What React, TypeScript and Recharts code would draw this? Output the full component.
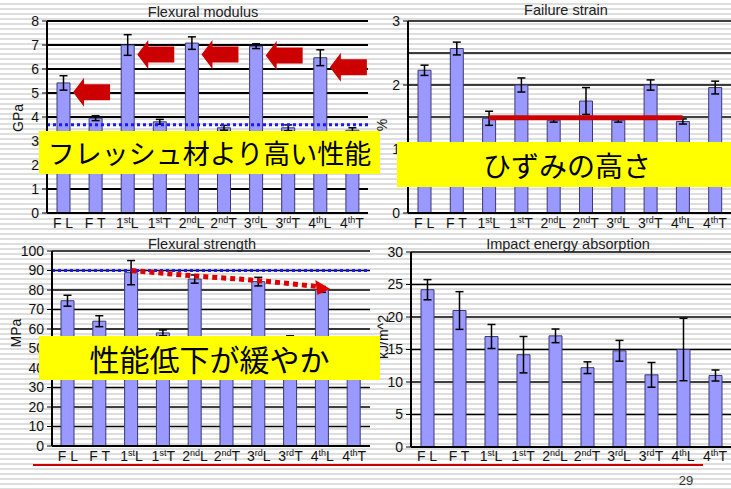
import React from "react";
import {
  ComposedChart,
  Bar,
  Line,
  XAxis,
  YAxis,
  CartesianGrid,
  ErrorBar,
  ReferenceLine,
  ReferenceDot,
} from "recharts";

// specimen groups: fresh (F) and recycled 1st..4th, L / T direction
const categories = ["FL", "FT", "1stL", "1stT", "2ndL", "2ndT", "3rdL", "3rdT", "4thL", "4thT"];

// Flexural modulus [GPa]
const modulus = [5.42, 3.95, 7.0, 3.8, 7.08, 3.55, 6.95, 3.55, 6.47, 3.45];
const modulusErr = [0.3, 0.1, 0.43, 0.1, 0.26, 0.1, 0.1, 0.12, 0.33, 0.1];
const modulusTicks = [0, 1, 2, 3, 4, 5, 6, 7, 8];
const freshModulus = 3.68;
const arrowCats = ["FL", "1stL", "2ndL", "3rdL", "4thL"];
const arrowLevels = [5.03, 6.6, 6.6, 6.56, 6.07];

// Failure strain [%]
const strain = [2.23, 2.57, 1.48, 2.0, 1.45, 1.75, 1.45, 2.0, 1.43, 1.96];
const strainErr = [0.08, 0.1, 0.11, 0.11, 0.03, 0.21, 0.03, 0.08, 0.04, 0.1];
const strainTicks = [0, 1, 2, 3];
const strainGrid = [0.5, 1, 1.5, 2, 2.5, 3];
const strainMark = 1.49;

// Flexural strength [MPa]
const strength = [74.5, 64, 88.9, 58, 85.6, 54, 84.3, 54.5, 80.3, 52];
const strengthErr = [2.8, 2.8, 6.2, 1.5, 2.1, 1.5, 2.2, 2, 1.5, 1.5];
const strengthTicks = [0, 10, 20, 30, 40, 50, 60, 70, 80, 90, 100];
const freshStrength = 90;
const trendCats = ["1stL", "2ndL", "3rdL", "4thL"];
const trendVals = [90, 87.2, 84.8, 81.5];

// Impact energy absorption [kJ/m^2]
const impact = [24.2, 21.0, 17.0, 14.2, 17.1, 12.2, 14.8, 11.1, 15.0, 11.0];
const impactErr = [1.55, 2.9, 1.85, 2.8, 1.05, 0.9, 1.6, 1.9, 4.8, 0.85];
const impactTicks = [0, 5, 10, 15, 20, 25, 30];

const rows = (values: number[], errs: number[]) =>
  categories.map((cat, i) => ({
    cat,
    value: values[i],
    err: errs[i],
    trend: trendCats.includes(cat) ? trendVals[trendCats.indexOf(cat)] : null,
  }));

const FONT = '"Liberation Sans", Arial, sans-serif';
const JP_FONT = '"Noto Sans CJK JP", sans-serif';
const BAR_FILL = "#9999ff";
const BAR_STROKE = "#3b3b70";
const axisLine = { stroke: "#000", strokeWidth: 2 };
const yTick = { fontSize: 14, fill: "#111", fontFamily: FONT };

function CatTick(props: any) {
  const { x, y, payload, drop } = props;
  const m = /^(\d)(st|nd|rd|th)([LT])$/.exec(payload.value);
  return (
    <text x={x} y={y + drop} textAnchor="middle" fontSize={14} fill="#111" fontFamily={FONT}>
      {m ? (
        <>
          <tspan>{m[1]}</tspan>
          <tspan fontSize={9} dy={-5}>{m[2]}</tspan>
          <tspan dy={5}>{m[3]}</tspan>
        </>
      ) : (
        payload.value.split("").join(" ")
      )}
    </text>
  );
}

// block arrow pointing left at a bar top
function LeftArrow(props: any) {
  const { cx, cy } = props;
  const t = cx + 10;
  const pts = [
    [t, cy],
    [t + 11, cy - 14.5],
    [t + 11, cy - 8],
    [t + 37, cy - 8],
    [t + 37, cy + 8],
    [t + 11, cy + 8],
    [t + 11, cy + 14.5],
  ];
  return <polygon points={pts.map((p) => p.join(",")).join(" ")} fill="#cc0000" />;
}

// head for the dotted trend line
function ArrowHead(props: any) {
  const { cx, cy } = props;
  const pts = [
    [cx - 7, cy - 7],
    [cx + 8, cy + 2],
    [cx - 5, cy + 8],
  ];
  return <polygon points={pts.map((p) => p.join(",")).join(" ")} fill="#dd0000" />;
}

const xAxisProps = (height: number, drop: number) => ({
  dataKey: "cat",
  interval: 0 as const,
  height,
  tickLine: false,
  tickSize: 0,
  tickMargin: 0,
  axisLine,
  tick: (p: any) => <CatTick {...p} drop={drop} />,
});

const yAxisProps = (width: number, domain: number[], ticks: number[]) => ({
  type: "number" as const,
  domain,
  ticks,
  interval: 0 as const,
  width,
  axisLine,
  tickLine: { stroke: "#000" },
  tickSize: 5,
  tickMargin: 3,
  tick: yTick,
});

const title: React.CSSProperties = {
  position: "absolute",
  transform: "translate(-50%, -50%)",
  fontFamily: FONT,
  fontSize: 14.5,
  lineHeight: 1,
  color: "#222",
  whiteSpace: "nowrap",
};

const unit: React.CSSProperties = {
  position: "absolute",
  transform: "translate(-50%, -50%) rotate(-90deg)",
  fontFamily: FONT,
  fontSize: 14,
  lineHeight: 1,
  color: "#111",
  whiteSpace: "nowrap",
};

const note: React.CSSProperties = {
  position: "absolute",
  background: "#ffff00",
  display: "flex",
  alignItems: "center",
  justifyContent: "center",
  fontFamily: JP_FONT,
  color: "#000",
  whiteSpace: "nowrap",
  overflow: "hidden",
};

export default function App() {
  return (
    <div
      style={{
        position: "fixed",
        left: 0,
        top: 0,
        width: 731,
        height: 489,
        overflow: "hidden",
        background:
          "repeating-linear-gradient(to bottom, #ffffff 0px, #ffffff 3px, #dedede 3px, #dedede 5px)",
      }}
    >
      {/* Flexural modulus */}
      <div style={{ position: "absolute", left: 0, top: 0 }}>
        <ComposedChart width={370} height={235} data={rows(modulus, modulusErr)} margin={{ top: 21, right: 2, bottom: 0, left: 0 }}>
          <CartesianGrid vertical={false} stroke="#000" strokeWidth={2} />
          <XAxis {...xAxisProps(22, 15)} />
          <YAxis {...yAxisProps(47, [0, 8], modulusTicks)} />
          <Bar dataKey="value" fill={BAR_FILL} stroke={BAR_STROKE} strokeWidth={1} barSize={13} isAnimationActive={false}>
            <ErrorBar dataKey="err" width={4} stroke="#000" strokeWidth={1.5} />
          </Bar>
          <ReferenceLine y={freshModulus} stroke="#1a1aff" strokeWidth={3} strokeDasharray="3 3" />
          {arrowCats.map((c, i) => (
            <ReferenceDot key={c} x={c} y={arrowLevels[i]} shape={LeftArrow} />
          ))}
        </ComposedChart>
      </div>

      {/* Failure strain */}
      <div style={{ position: "absolute", left: 361, top: 0 }}>
        <ComposedChart width={370} height={235} data={rows(strain, strainErr)} margin={{ top: 21, right: 0, bottom: 0, left: 0 }}>
          <CartesianGrid vertical={false} stroke="#000" strokeWidth={1.6} horizontalValues={strainGrid} />
          <XAxis {...xAxisProps(22, 15)} />
          <YAxis {...yAxisProps(47, [0, 3], strainTicks)} />
          <Bar dataKey="value" fill={BAR_FILL} stroke={BAR_STROKE} strokeWidth={1} barSize={13} isAnimationActive={false}>
            <ErrorBar dataKey="err" width={4} stroke="#000" strokeWidth={1.5} />
          </Bar>
          <ReferenceLine
            segment={[
              { x: "1stL", y: strainMark },
              { x: "4thL", y: strainMark },
            ]}
            stroke="#cc0000"
            strokeWidth={5}
          />
        </ComposedChart>
      </div>

      {/* Flexural strength */}
      <div style={{ position: "absolute", left: 0, top: 230 }}>
        <ComposedChart width={372} height={240} data={rows(strength, strengthErr)} margin={{ top: 21, right: 2, bottom: 0, left: 0 }}>
          <CartesianGrid vertical={false} stroke="#000" strokeWidth={1.6} />
          <XAxis {...xAxisProps(24, 15)} />
          <YAxis {...yAxisProps(52, [0, 100], strengthTicks)} />
          <Bar dataKey="value" fill={BAR_FILL} stroke={BAR_STROKE} strokeWidth={1} barSize={13} isAnimationActive={false}>
            <ErrorBar dataKey="err" width={4} stroke="#000" strokeWidth={1.5} />
          </Bar>
          <ReferenceLine y={freshStrength} stroke="#1a1aff" strokeWidth={3} strokeDasharray="3 3" />
          <Line
            dataKey="trend"
            type="monotone"
            connectNulls
            stroke="#dd0000"
            strokeWidth={5}
            strokeDasharray="5 4"
            dot={false}
            activeDot={false}
            isAnimationActive={false}
          />
          <ReferenceDot x={trendCats[3]} y={trendVals[3]} shape={ArrowHead} />
        </ComposedChart>
      </div>

      {/* Impact energy absorption */}
      <div style={{ position: "absolute", left: 361, top: 230 }}>
        <ComposedChart width={370} height={240} data={rows(impact, impactErr)} margin={{ top: 22, right: 0, bottom: 0, left: 0 }}>
          <CartesianGrid vertical={false} stroke="#000" strokeWidth={1.6} />
          <XAxis {...xAxisProps(23, 14)} />
          <YAxis {...yAxisProps(50, [0, 30], impactTicks)} />
          <Bar dataKey="value" fill={BAR_FILL} stroke={BAR_STROKE} strokeWidth={1} barSize={13} isAnimationActive={false}>
            <ErrorBar dataKey="err" width={4} stroke="#000" strokeWidth={1.5} />
          </Bar>
        </ComposedChart>
      </div>

      <div style={{ ...title, left: 203, top: 12 }}>Flexural modulus</div>
      <div style={{ ...title, left: 566, top: 10 }}>Failure strain</div>
      <div style={{ ...title, left: 202, top: 244 }}>Flexural strength</div>
      <div style={{ ...title, left: 568, top: 244 }}>Impact energy absorption</div>

      <div style={{ ...unit, left: 18, top: 118 }}>GPa</div>
      <div style={{ ...unit, left: 382, top: 125 }}>%</div>
      <div style={{ ...unit, left: 16, top: 333 }}>MPa</div>
      <div style={{ ...unit, left: 383, top: 337 }}>kJ/m^2</div>

      <div style={{ ...note, left: 39, top: 131, width: 341, height: 43, fontSize: 27 }}>フレッシュ材より高い性能</div>
      <div style={{ ...note, left: 397, top: 142, width: 340, height: 45, fontSize: 28 }}>ひずみの高さ</div>
      <div style={{ ...note, left: 39, top: 336, width: 341, height: 44, fontSize: 30 }}>性能低下が緩やか</div>

      <div style={{ position: "absolute", left: 33, top: 463.5, width: 670, height: 2.5, background: "#cc0000" }} />
      <div style={{ position: "absolute", left: 686, top: 480, transform: "translate(-50%, -50%)", fontFamily: FONT, fontSize: 13, lineHeight: 1, color: "#333" }}>
        29
      </div>
    </div>
  );
}
